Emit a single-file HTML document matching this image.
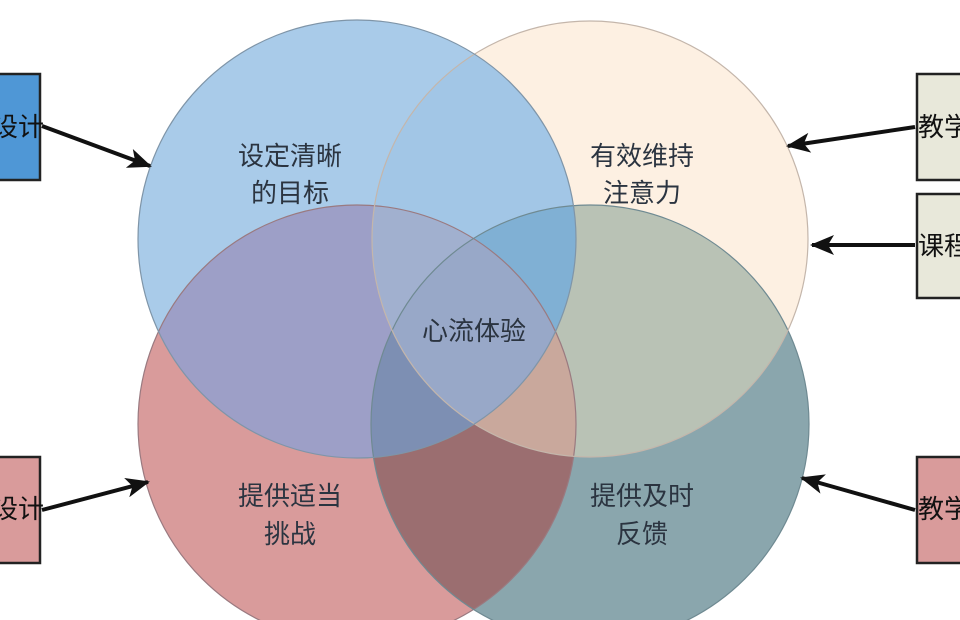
<!DOCTYPE html>
<html><head><meta charset="utf-8"><style>
html,body{margin:0;padding:0;background:#fff;width:960px;height:620px;overflow:hidden}
svg text{font-family:"Liberation Sans","Noto Sans CJK SC",sans-serif;font-size:26px;fill:#2b3440}
</style></head><body>
<svg width="960" height="620" viewBox="0 0 960 620">
<defs>
<marker id="b" markerWidth="24" markerHeight="24" refX="22" refY="12" orient="auto" markerUnits="userSpaceOnUse"><path d="M0,2 L24,12 L0,22 L6,12z" fill="#111"/></marker>
<clipPath id="A"><circle cx="357" cy="239" r="219"/></clipPath>
<clipPath id="B"><circle cx="590" cy="239" r="218"/></clipPath>
<clipPath id="C"><circle cx="357" cy="424" r="219"/></clipPath>
<clipPath id="D"><circle cx="590" cy="424" r="219"/></clipPath>
</defs>
<circle cx="357" cy="239" r="219" fill="#a9cbe9"/>
<circle cx="590" cy="239" r="218" fill="#fdf0e2"/>
<circle cx="357" cy="424" r="219" fill="#d99b9b"/>
<circle cx="590" cy="424" r="219" fill="#8aa6ad"/>
<g clip-path="url(#A)"><circle cx="590" cy="239" r="218" fill="#a2c6e6"/></g>
<g clip-path="url(#A)"><circle cx="357" cy="424" r="219" fill="#9d9fc7"/></g>
<g clip-path="url(#A)"><circle cx="590" cy="424" r="219" fill="#7d8fb3"/></g>
<g clip-path="url(#B)"><circle cx="590" cy="424" r="219" fill="#b9c2b5"/></g>
<g clip-path="url(#C)"><circle cx="590" cy="424" r="219" fill="#9b6e70"/></g>
<g clip-path="url(#A)"><g clip-path="url(#B)"><circle cx="590" cy="424" r="219" fill="#80b0d4"/></g></g>
<g clip-path="url(#A)"><g clip-path="url(#B)"><circle cx="357" cy="424" r="219" fill="#a1b0cf"/></g></g>
<g clip-path="url(#A)"><g clip-path="url(#C)"><circle cx="590" cy="424" r="219" fill="#7d8fb3"/></g></g>
<g clip-path="url(#B)"><g clip-path="url(#C)"><circle cx="590" cy="424" r="219" fill="#c9a89c"/></g></g>
<g clip-path="url(#A)"><g clip-path="url(#B)"><g clip-path="url(#C)"><circle cx="590" cy="424" r="219" fill="#98a8c8"/></g></g></g>
<g fill="none" stroke-width="1.2">
<circle cx="357" cy="424" r="219" stroke="#9a7a80"/>
<circle cx="590" cy="424" r="219" stroke="#6f8a92"/>
<circle cx="590" cy="239" r="218" stroke="#c4b6ab"/>
<circle cx="357" cy="239" r="219" stroke="#7f95a8"/>
</g>
<text x="290" y="165" text-anchor="middle">设定清晰</text>
<text x="290" y="202" text-anchor="middle">的目标</text>
<text x="642" y="165" text-anchor="middle">有效维持</text>
<text x="642" y="202" text-anchor="middle">注意力</text>
<text x="474" y="340" text-anchor="middle">心流体验</text>
<text x="290" y="505" text-anchor="middle">提供适当</text>
<text x="290" y="543" text-anchor="middle">挑战</text>
<text x="642" y="505" text-anchor="middle">提供及时</text>
<text x="642" y="543" text-anchor="middle">反馈</text>
<rect x="-5" y="74" width="45" height="106" fill="#4f97d6" stroke="#222" stroke-width="2.5"/>
<text x="-8" y="136" style="fill:#111">设计</text>
<rect x="-5" y="457" width="45" height="106" fill="#d99b9b" stroke="#222" stroke-width="2.5"/>
<text x="-8" y="518" style="fill:#111">设计</text>
<rect x="917" y="74" width="50" height="106" fill="#e8e8da" stroke="#222" stroke-width="2.5"/>
<text x="918" y="136" style="fill:#111">教学</text>
<rect x="917" y="194" width="50" height="104" fill="#e8e8da" stroke="#222" stroke-width="2.5"/>
<text x="918" y="255" style="fill:#111">课程</text>
<rect x="917" y="457" width="50" height="106" fill="#d99b9b" stroke="#222" stroke-width="2.5"/>
<text x="918" y="518" style="fill:#111">教学</text>
<g stroke="#111" stroke-width="4" fill="none">
<line x1="42" y1="126" x2="150" y2="166" marker-end="url(#b)"/>
<line x1="42" y1="510" x2="148" y2="482" marker-end="url(#b)"/>
<line x1="915" y1="127" x2="788" y2="146" marker-end="url(#b)"/>
<line x1="915" y1="245" x2="812" y2="245" marker-end="url(#b)"/>
<line x1="915" y1="510" x2="802" y2="478" marker-end="url(#b)"/>
</g>
</svg>
</body></html>
